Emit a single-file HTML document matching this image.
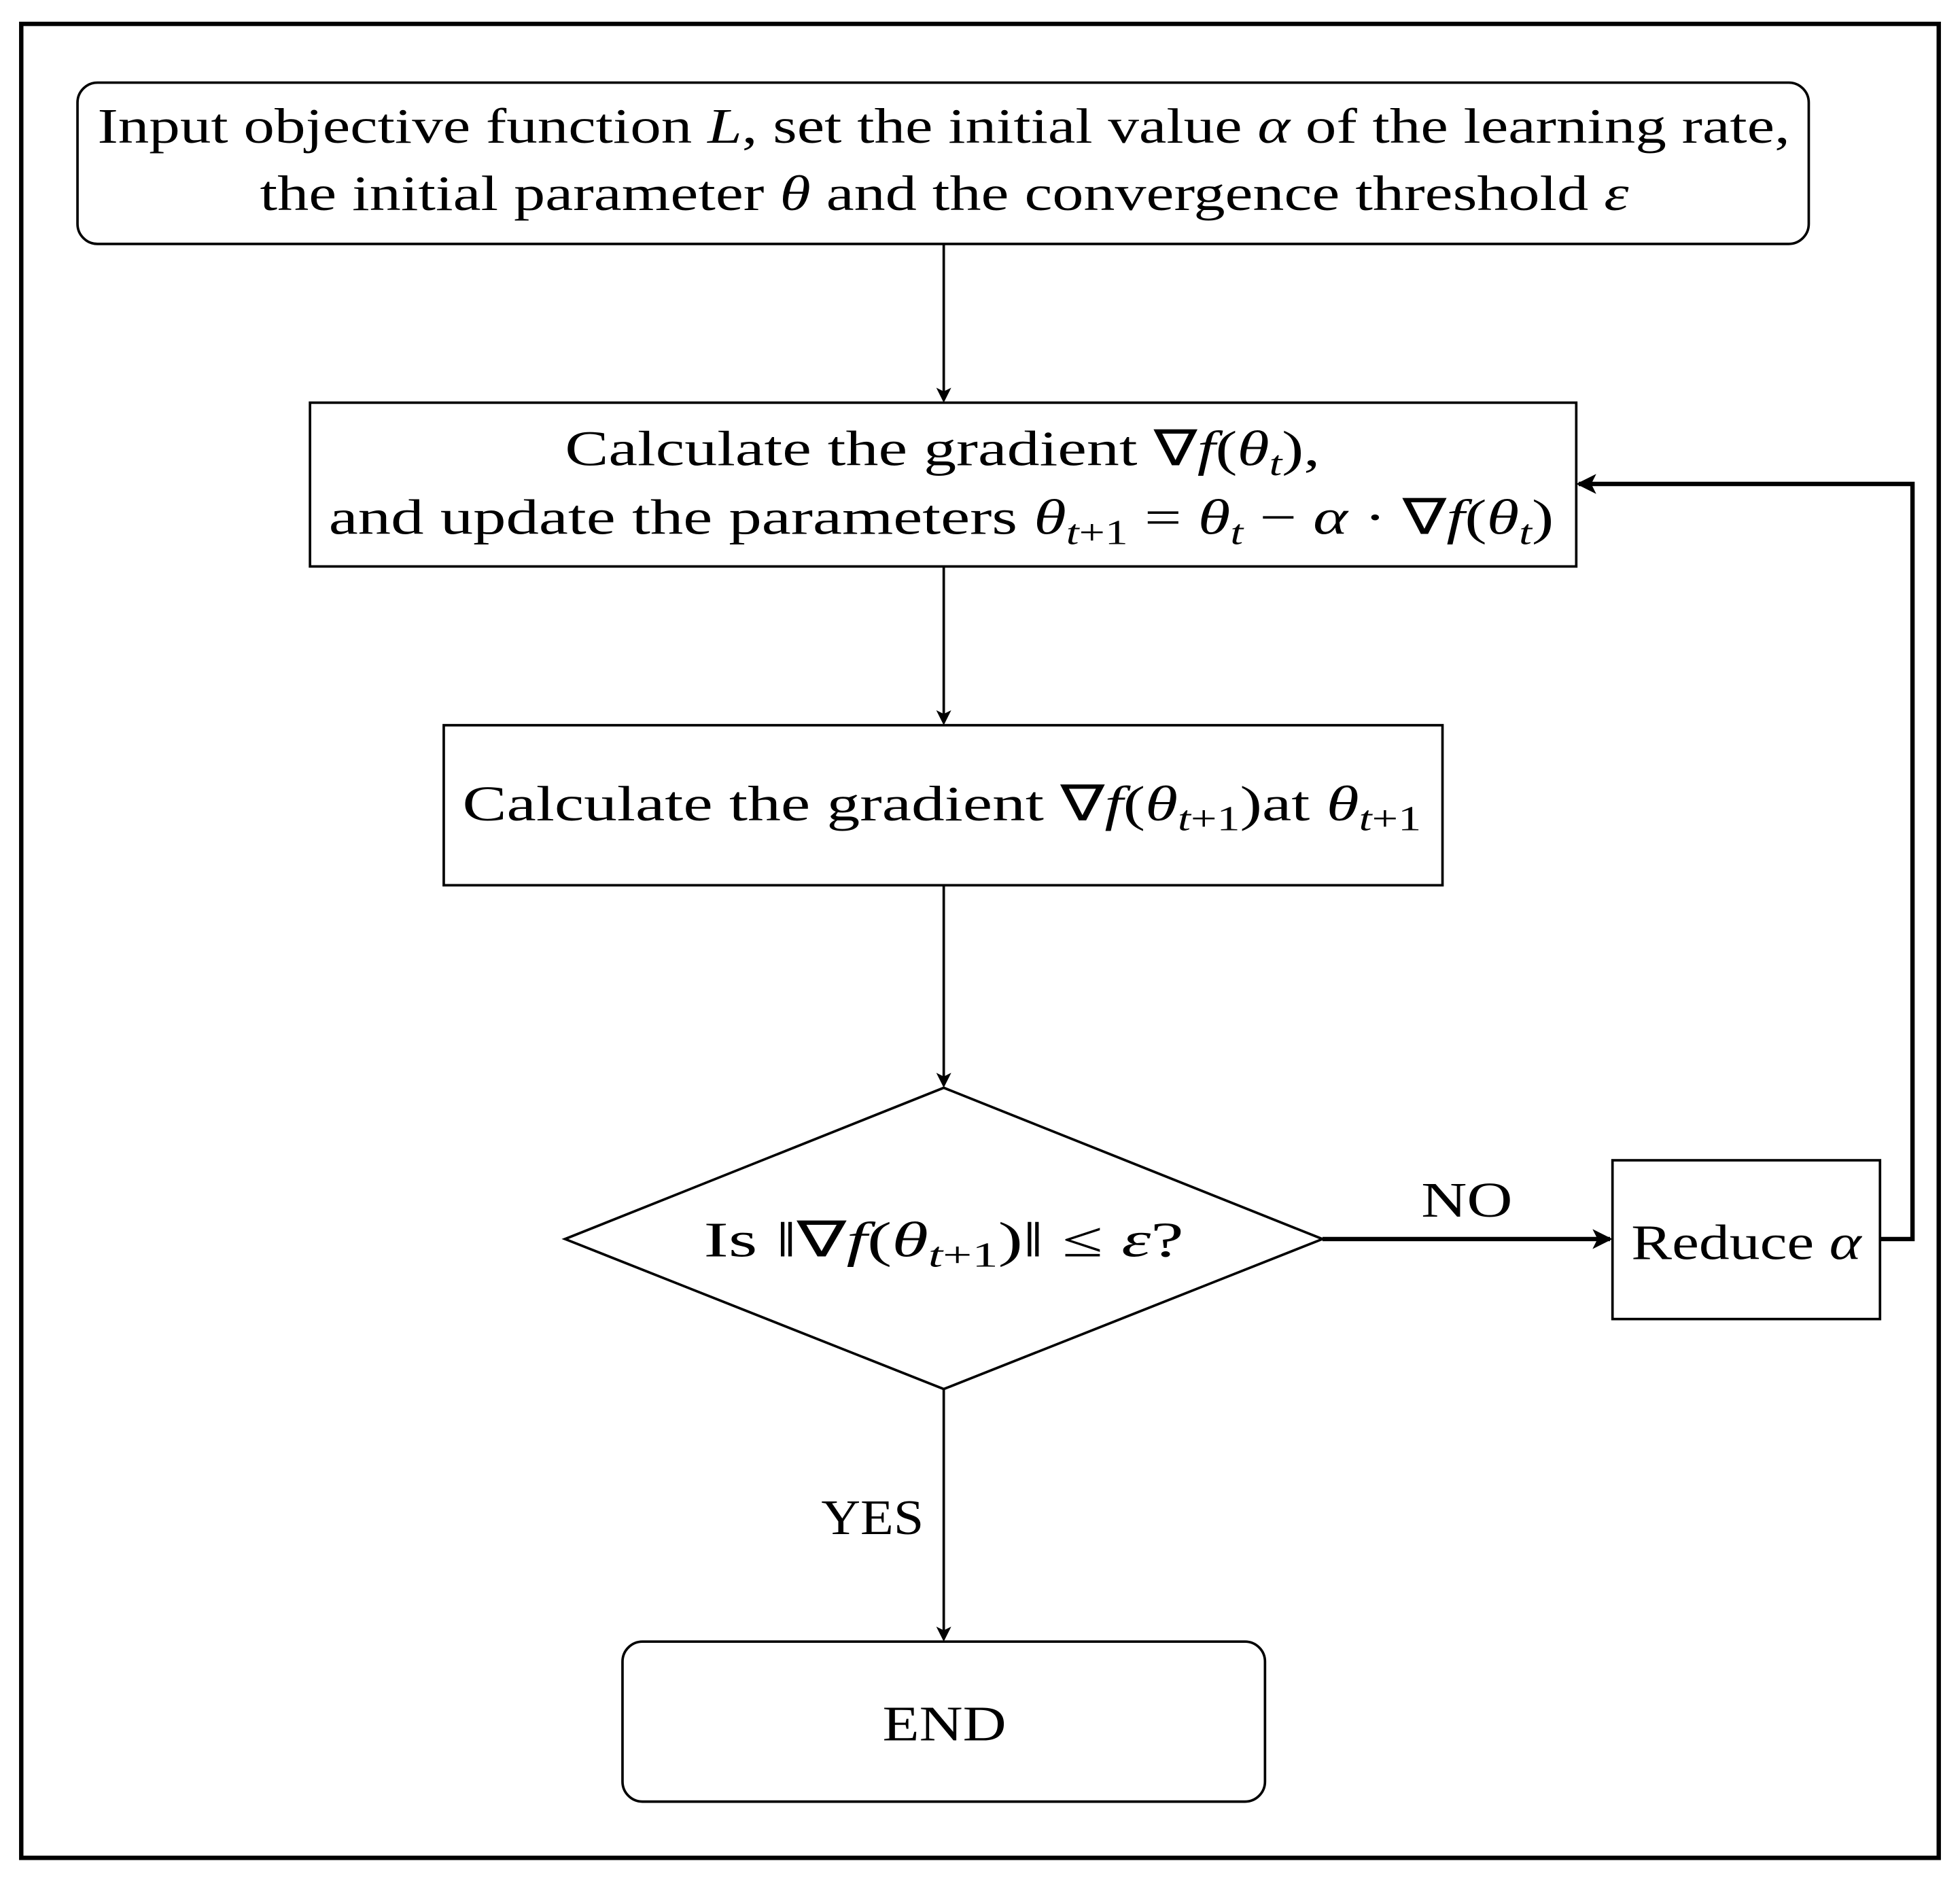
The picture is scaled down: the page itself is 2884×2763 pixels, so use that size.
<!DOCTYPE html>
<html><head><meta charset="utf-8"><style>
html,body{margin:0;padding:0;background:#fff;}
svg{display:block;}
text{font-family:"Liberation Serif",serif;fill:#000;}
.i{font-style:italic;}
</style></head><body>
<svg width="2884" height="2763" viewBox="0 0 1568 1502" xmlns="http://www.w3.org/2000/svg">
<defs>
<marker id="a" markerWidth="12" markerHeight="12" refX="10" refY="6" orient="auto" markerUnits="userSpaceOnUse" viewBox="0 0 12 12">
<path d="M0,0 L12,6 L0,12 L3,6 Z" fill="#000"/>
</marker>
<marker id="b" markerWidth="16" markerHeight="16" refX="14" refY="8" orient="auto" markerUnits="userSpaceOnUse" viewBox="0 0 16 16">
<path d="M0,0 L16,8 L0,16 L4,8 Z" fill="#000"/>
</marker>
</defs>
<rect x="17" y="19" width="1534" height="1467" fill="none" stroke="#000" stroke-width="3.5"/>
<g fill="none" stroke="#000" stroke-width="2">
<rect x="62" y="66" width="1385" height="129" rx="16"/>
<rect x="248" y="322" width="1013" height="131"/>
<rect x="355" y="580" width="799" height="128"/>
<polygon points="755,870 1058,991 755,1111 452,991"/>
<rect x="1290" y="928" width="214" height="127"/>
<rect x="498" y="1313" width="514" height="128" rx="16"/>
<line x1="755" y1="195" x2="755" y2="320" marker-end="url(#a)"/>
<line x1="755" y1="453" x2="755" y2="578" marker-end="url(#a)"/>
<line x1="755" y1="708" x2="755" y2="868" marker-end="url(#a)"/>
<line x1="755" y1="1111" x2="755" y2="1311" marker-end="url(#a)"/>
</g>
<g fill="none" stroke="#000" stroke-width="3.5">
<line x1="1058" y1="991" x2="1288" y2="991" marker-end="url(#b)"/>
<polyline points="1504,991 1530,991 1530,387 1263,387" marker-end="url(#b)"/>
</g>
<g font-size="40">
<text x="78" y="114" textLength="1354" lengthAdjust="spacingAndGlyphs">Input objective function <tspan class="i">L</tspan>, set the initial value <tspan class="i">α</tspan> of the learning rate,</text>
<text x="208" y="168" textLength="1095" lengthAdjust="spacingAndGlyphs">the initial parameter <tspan class="i">θ</tspan> and the convergence threshold <tspan class="i">ε</tspan></text>
<text x="452" y="372" textLength="604" lengthAdjust="spacingAndGlyphs">Calculate the gradient ∇<tspan class="i">f</tspan>(<tspan class="i">θ</tspan><tspan class="i" font-size="28" dy="8">t</tspan><tspan dy="-8">),</tspan></text>
<text x="263" y="427" textLength="980" lengthAdjust="spacingAndGlyphs">and update the parameters <tspan class="i">θ</tspan><tspan font-size="28" dy="8"><tspan class="i">t</tspan>+1</tspan><tspan dy="-8"> = </tspan><tspan class="i">θ</tspan><tspan class="i" font-size="28" dy="8">t</tspan><tspan dy="-8"> − </tspan><tspan class="i">α</tspan> · ∇<tspan class="i">f</tspan>(<tspan class="i">θ</tspan><tspan class="i" font-size="28" dy="8">t</tspan><tspan dy="-8">)</tspan></text>
<text x="370" y="656" textLength="767" lengthAdjust="spacingAndGlyphs">Calculate the gradient ∇<tspan class="i">f</tspan>(<tspan class="i">θ</tspan><tspan font-size="28" dy="8"><tspan class="i">t</tspan>+1</tspan><tspan dy="-8">)at </tspan><tspan class="i">θ</tspan><tspan font-size="28" dy="8"><tspan class="i">t</tspan>+1</tspan></text>
<text x="563" y="1005" textLength="384" lengthAdjust="spacingAndGlyphs">Is ‖∇<tspan class="i">f</tspan>(<tspan class="i">θ</tspan><tspan font-size="28" dy="8"><tspan class="i">t</tspan>+1</tspan><tspan dy="-8">)‖ ≤ </tspan><tspan class="i">ε</tspan>?</text>
<text x="1137" y="973" textLength="73" lengthAdjust="spacingAndGlyphs">NO</text>
<text x="1305" y="1007" textLength="184" lengthAdjust="spacingAndGlyphs">Reduce <tspan class="i">α</tspan></text>
<text x="657" y="1227" textLength="82" lengthAdjust="spacingAndGlyphs">YES</text>
<text x="706" y="1392" textLength="99" lengthAdjust="spacingAndGlyphs">END</text>
</g>
</svg>
</body></html>
